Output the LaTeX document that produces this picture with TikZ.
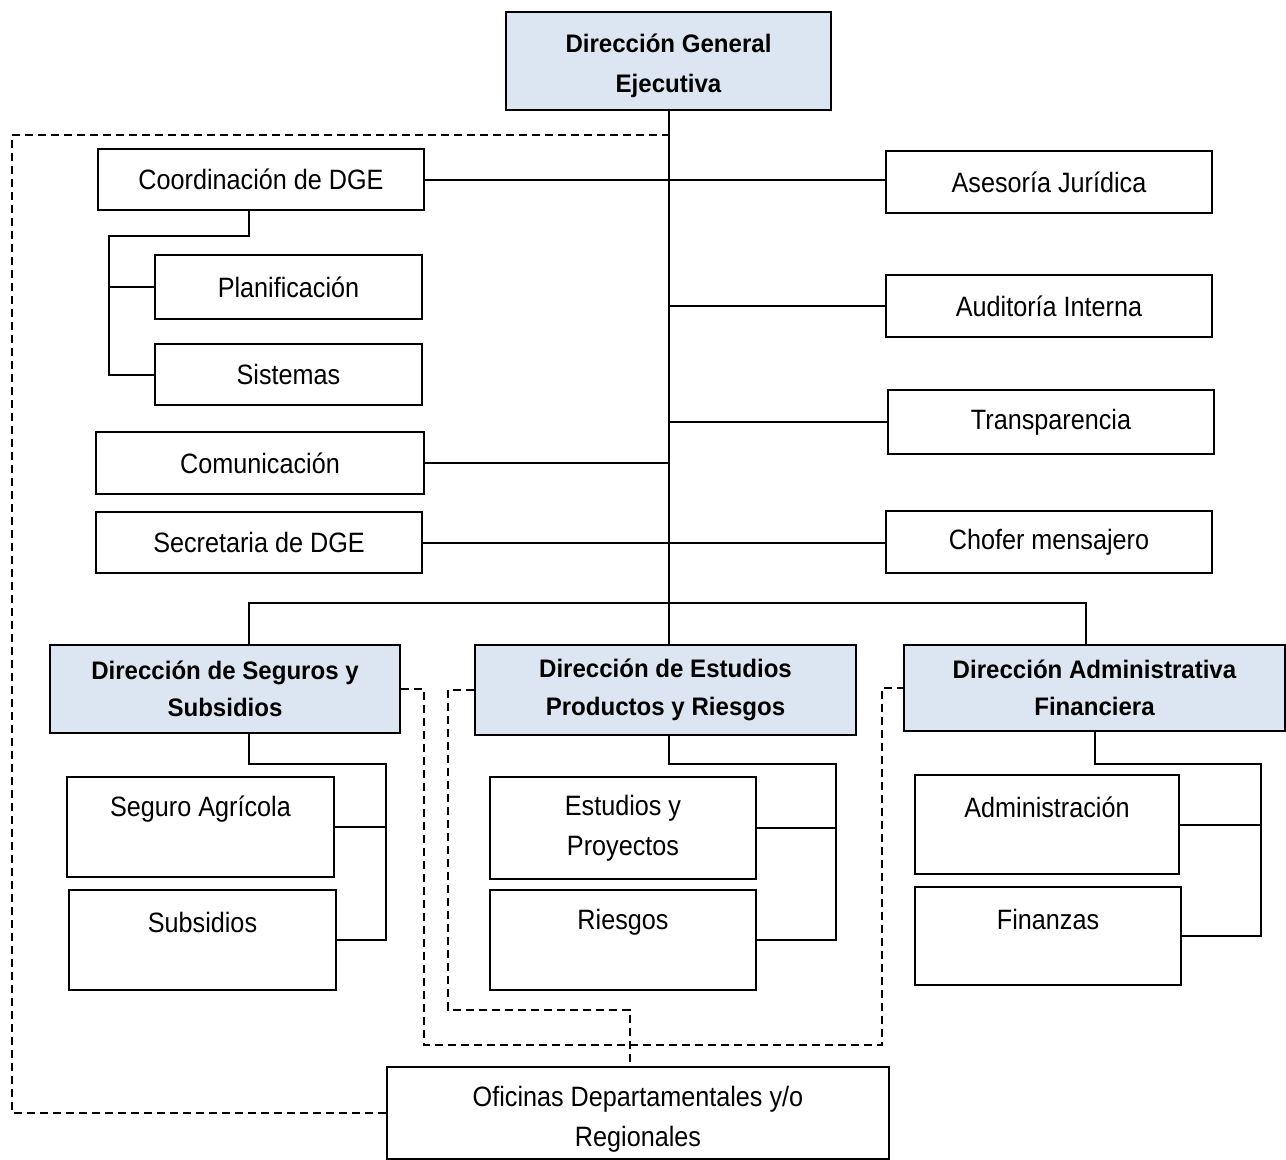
\documentclass[tikz,border=0pt]{standalone}
\usepackage{fontspec}
\setmainfont{Liberation Sans}[FakeStretch=0.9]
\newfontfamily\dirfont{Liberation Sans}[FakeStretch=0.95]
\definecolor{dirblue}{HTML}{DCE6F2}
\tikzset{
  box/.style={draw, line width=1.6pt, inner sep=0pt, align=center, font=\fontsize{21}{30}\selectfont},
  dirbox/.style={box, fill=dirblue, font=\dirfont\bfseries\fontsize{19}{28}\selectfont},
  sz/.style 2 args={minimum width=#1*0.75pt, minimum height=#2*0.75pt},
  conn/.style={line width=1.5pt},
  dline/.style={line width=1.4pt, dash pattern=on 6pt off 3.75pt},
  toptext/.style={font=\fontsize{21}{30}\selectfont, inner sep=0pt},
  midtext/.style={font=\fontsize{21}{30}\selectfont, inner sep=0pt, align=center},
  dgetext/.style={font=\dirfont\bfseries\fontsize{19}{30}\selectfont, inner sep=0pt, align=center},
}
\begin{document}
\begin{tikzpicture}[x=0.75pt,y=-0.75pt]
\useasboundingbox (0,0) rectangle (1286,1160);
% top
\node[dirbox, sz={325}{98}, label={[dgetext, anchor=center, yshift=-3.5pt]center:Dirección General\\Ejecutiva}] (dge) at (668.5,61) {};
% left staff
\node[box, sz={326}{61}] (coord) at (261,179.5) {Coordinación de DGE};
\node[box, sz={267}{64}] (plan) at (288.5,287) {Planificación};
\node[box, sz={267}{61}] (sist) at (288.5,374.5) {Sistemas};
\node[box, sz={328}{62}] (com) at (260,463) {Comunicación};
\node[box, sz={326}{61}] (sec) at (259,542.5) {Secretaria de DGE};
% right staff
\node[box, sz={326}{62}] (ases) at (1049,182) {Asesoría Jurídica};
\node[box, sz={326}{62}] (aud) at (1049,306) {Auditoría Interna};
\node[box, sz={326}{64}] (trans) at (1051,422) {Transparencia};
\node[box, sz={326}{62}] (chof) at (1049,542) {Chofer mensajero};
% directions
\node[dirbox, sz={350}{88}] (seg) at (225,689) {Dirección de Seguros y\\Subsidios};
\node[dirbox, sz={381}{90}] (est) at (665.5,690) {Dirección de Estudios\\Productos y Riesgos};
\node[dirbox, sz={381}{86}] (adm) at (1094.5,688) {Dirección Administrativa\\Financiera};
% units
\node[box, sz={267}{100}, label={[toptext, anchor=center, yshift=-25pt]north:Seguro Agrícola}] (agr) at (200.5,827) {};
\node[box, sz={267}{100}, label={[toptext, anchor=center, yshift=-25pt]north:Subsidios}] (subs) at (202.5,940) {};
\node[box, sz={266}{102}] (eyp) at (623,828) {Estudios y\\Proyectos};
\node[box, sz={266}{100}, label={[toptext, anchor=center, yshift=-25pt]north:Riesgos}] (ries) at (623,940) {};
\node[box, sz={264}{99}, label={[toptext, anchor=center, yshift=-25pt]north:Administración}] (admi) at (1047,824.5) {};
\node[box, sz={266}{98}, label={[toptext, anchor=center, yshift=-25pt]north:Finanzas}] (fin) at (1048,936) {};
% regional offices
\node[box, sz={502}{92}, label={[midtext, anchor=center, yshift=-5pt]center:Oficinas Departamentales y/o\\Regionales}] (ofi) at (638,1113) {};

% coordinates
\coordinate (cb) at (109,236);
\coordinate (busL) at (249,603);
\coordinate (busR) at (1086,603);
\coordinate (segB) at (386,764);
\coordinate (estB) at (836,764);
\coordinate (admB) at (1261,764);
\coordinate (dcorner) at (12,135);
\coordinate (d1) at (424,1045);
\coordinate (d2) at (882,1045);
\coordinate (d3) at (448,1010);
\coordinate (d4) at (630,1010);

% solid connectors
\draw[conn] (dge.south) -- (dge.south |- est.north);
\draw[conn] (coord.east) -- (coord.east -| ases.west);
\draw[conn] (dge.south |- aud.west) -- (aud.west);
\draw[conn] (dge.south |- trans.west) -- (trans.west);
\draw[conn] (com.east) -- (com.east -| dge.south);
\draw[conn] (sec.east) -- (sec.east -| chof.west);
\draw[conn] (coord.south -| busL) |- (cb) |- (sist.west);
\draw[conn] (cb |- plan.west) -- (plan.west);
\draw[conn] (seg.north -| busL) |- (busR) -- (adm.north -| busR);
\draw[conn] (seg.south -| busL) |- (segB) |- (subs.east);
\draw[conn] (segB |- agr.east) -- (agr.east);
\draw[conn] (dge.south |- est.south) |- (estB) |- (ries.east);
\draw[conn] (estB |- eyp.east) -- (eyp.east);
\draw[conn] (adm.south) |- (admB) |- (fin.east);
\draw[conn] (admB |- admi.east) -- (admi.east);

% dashed connectors
\draw[dline] (ofi.west) -| (dcorner) -- (dcorner -| dge.south);
\draw[dline] (seg.east) -| (d1) -- (d2) |- (adm.west);
\draw[dline] (est.west) -| (d3) -- (d4) -- (d4 |- ofi.north);
\end{tikzpicture}
\end{document}
